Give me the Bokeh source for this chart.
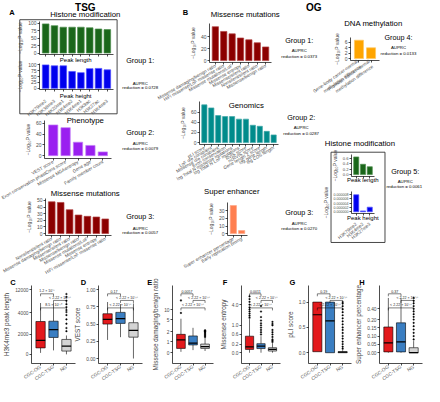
import numpy as np
from bokeh.plotting import figure
from bokeh.models import Range1d, FactorRange, FixedTicker, GridBox, ColumnDataSource, PrintfTickFormatter, Column
from bokeh.embed import file_html
from bokeh.resources import INLINE
from bokeh.core.properties import value

# ---------------- data ----------------
tsg_hist_marks = ["H3K79me2", "H3K36me3", "H4K20me1", "H3K4me2", "H3K4me1", "H3K9ac", "H3K27ac", "H3K4me3"]
tsg_peak_length = [97, 91, 86, 86, 86, 84, 80, 78]
tsg_peak_height = [100, 96, 96, 72, 67, 84, 85, 79]

tsg_pheno_feats = ["VEST score", "Exon conservation phastCons score", "Missense MGAentropy", "Gene age", "Family member count"]
tsg_pheno_vals = [57, 52, 25, 19, 7]

tsg_mis_feats = ["Nonsilent/silent ratio", "Missense damaging/benign ratio", "Missense/silent ratio",
                 "Missense/benign ratio", "Missense mutations/LoF", "Missense entropy", "HiFi missense/LoF missense ratio"]
tsg_mis_vals = [48, 47, 36, 28, 26, 25, 22]

og_mis_feats = ["Missense damaging/benign ratio", "HiFi missense/LoF missense ratio", "Missense mutations/LoF",
                "Missense entropy", "Missense/silent ratio", "Nonsilent/silent ratio", "Missense/benign ratio"]
og_mis_vals = [57, 49, 45, 38, 35, 30, 23]

og_gen_feats = ["pLI score", "LoF o/e constraint", "Missense o/e constraint", "Exon conservation",
                "log Total N missense mutations", "log Total N LoF mutations", "RVIS score", "ncRVIS score",
                "Gene length Z score", "log gene length", "log CDS length"]
og_gen_vals = [74, 68, 53, 51, 51, 46, 46, 34, 32, 22, 15]

og_meth_feats = ["Gene-body cancer-normal\nmethylation difference", "Promoter cancer-normal\nmethylation difference"]
og_meth_vals = [6.8, 4.0]

og_se_feats = ["Super enhancer percentage", "Early replication timing"]
og_se_vals = [37, 4]

og_hist_marks = ["H3K79me2", "H3K4me2", "H3K27me3"]
og_peak_length = [0.65, 0.38, 0.29]
og_peak_height = [7.8e-6, 0.4e-6, 2.1e-6]

box_groups = ["CGC-OG", "CGC-TSG", "NG"]
box_colors = ["#e3191c", "#3a7ec2", "#d4d4d4"]

# boxplot stats per group: (lower whisker, Q1, median, Q3, upper whisker)
c_stats = [(150, 650, 1400, 3200, 7400), (400, 1700, 2450, 3230, 7400), (0, 330, 830, 1500, 1900)]
c_out = [[], [], [2300, 2600, 3000, 3400, 3800, 4300, 5000, 6000, 7000, 8200, 9500, 10500]]
c_ticks = [0, 2000, 4000, 12000]

d_stats = [(0.27, 0.50, 0.57, 0.65, 0.82), (0.31, 0.51, 0.58, 0.67, 0.79), (0.0, 0.31, 0.41, 0.52, 0.80)]
d_out = [[], [], []]
d_ticks = [0.0, 0.25, 0.5, 0.75, 1.0]

e_stats = [(0.08, 0.4, 1.2, 1.76, 5.4), (0.24, 0.72, 0.9, 1.6, 3.0), (0.16, 0.4, 0.56, 0.8, 1.44)]
e_out = [[8.3, 14.6], [], [1.5, 1.6, 1.7, 1.8, 1.9, 2.0, 2.1, 2.2, 2.3, 2.4]]
e_ticks = [0, 1, 2, 5, 10]

f_stats = [(0.0, 0.08, 0.14, 0.53, 1.9), (0.0, 0.1, 0.16, 0.23, 0.53), (0.0, 0.04, 0.08, 0.12, 0.25)]
f_out = [[2.1, 2.4, 2.7, 3.0, 3.3, 3.6, 4.0, 4.4, 4.8, 5.2],
         [0.6, 0.7, 0.8, 0.9, 1.0, 1.3, 1.7, 2.2, 3.0, 3.8],
         [0.3, 0.35, 0.4, 0.5, 0.6, 0.7, 0.8, 1.0, 1.2, 1.5]]
f_ticks = [0.0, 0.2, 0.6, 1.0, 4.0]

g_stats = [(0.02, 0.02, 0.75, 1.0, 1.0), (0.0, 0.0, 0.63, 1.0, 1.0), (0.0, 0.0, 0.01, 0.02, 0.05)]
g_out = [[], [], [0.08, 0.12, 0.17, 0.22, 0.28, 0.33, 0.39, 0.45, 0.5, 0.56, 0.62, 0.68, 0.74, 0.8, 0.86, 0.92, 0.97, 1.0]]
g_ticks = [0.0, 0.5, 1.0]

h_stats = [(0.0, 0.005, 0.06, 0.155, 0.6), (0.0, 0.005, 0.065, 0.18, 0.6), (0.0, 0.0, 0.0, 0.03, 0.07)]
h_out = [[], [], [0.08, 0.1, 0.12, 0.14, 0.16, 0.18, 0.2, 0.25, 0.3, 0.35, 0.4, 0.45, 0.5, 0.55, 0.6]]
h_ticks = [0.0, 0.05, 0.10, 0.15, 0.20, 0.40]

# ---------------- layout helpers ----------------
W, H = 424, 386
RW, RH = 440, 402
SX, SY = W / RW, H / RH
FONT = "Liberation Sans"


def mk(x0, y0, x1, y1, **kw):
    p = figure(width=W, height=H, output_backend="svg", toolbar_location=None, title_location=None,
               min_border_left=int(round(x0 * SX)), min_border_right=int(round(W - x1 * SX)),
               min_border_top=int(round(y0 * SY)), min_border_bottom=int(round(H - y1 * SY)), **kw)
    p.background_fill_alpha = 0
    p.border_fill_alpha = 0
    p.outline_line_color = None
    p.grid.visible = False
    return p


def style(p, tick_fs=5.0, lab_fs=5.0, xfs=4.6, angle=None):
    for ax in p.axis:
        ax.axis_line_width = 0.7
        ax.major_tick_out = 2
        ax.major_tick_in = 0
        ax.major_tick_line_width = 0.7
        ax.minor_tick_line_color = None
        ax.major_label_text_font = FONT
        ax.major_label_text_font_size = f"{tick_fs}px"
        ax.major_label_text_color = "#4d4d4d"
        ax.major_label_standoff = 1
        ax.axis_label_text_font = FONT
        ax.axis_label_text_font_size = f"{lab_fs}px"
        ax.axis_label_text_font_style = "normal"
        ax.axis_label_standoff = 2
    p.xaxis.major_label_text_font_size = f"{xfs}px"
    if angle is not None:
        p.xaxis.major_label_orientation = float(np.deg2rad(angle))


def bar_panel(frame, cats, vals, color, edge, yr, ticks, angle=30, show_x=True, fmt=None, tick_fs=5.0,
              width=0.75, xstand=1):
    x0, y0, x1, y1 = frame
    p = mk(x0, y0, x1, y1, x_range=FactorRange(*cats, range_padding=0.2, range_padding_units="absolute"),
           y_range=Range1d(*yr))
    src = ColumnDataSource(dict(x=cats, top=vals))
    p.vbar(x="x", top="top", bottom=0, width=width, source=src, fill_color=color, line_color=edge, line_width=0.7)
    p.yaxis.ticker = FixedTicker(ticks=ticks)
    if fmt:
        p.yaxis.formatter = PrintfTickFormatter(format=fmt)
    p.yaxis.axis_label = "\u2212Log\u2081\u2080P value"
    style(p, tick_fs=tick_fs, angle=angle)
    p.xaxis.major_label_standoff = xstand
    if not show_x:
        p.xaxis.major_label_text_color = None
    return p


def tr(v, kv, kd):
    v = np.atleast_1d(np.asarray(v, dtype=float))
    out = np.interp(v, kv, kd)
    slope = (kd[-1] - kd[-2]) / (kv[-1] - kv[-2])
    m = v > kv[-1]
    out[m] = kd[-1] + (v[m] - kv[-1]) * slope
    return out


def box_panel(frame, kv, kpix, ticks, labels, stats, outl, ylab, plabels):
    x0, y0, x1, y1 = frame
    kd = [RH - k for k in kpix]
    T = lambda v: tr(v, kv, kd)
    p = mk(x0, y0, x1, y1, x_range=FactorRange(*box_groups, range_padding=0.2, range_padding_units="absolute"),
           y_range=Range1d(RH - y1, RH - y0))
    lo, q1, md, q3, hi = [list(c) for c in zip(*stats)]
    src = ColumnDataSource(dict(x=box_groups, lo=T(lo), q1=T(q1), md=T(md), q3=T(q3), hi=T(hi), c=box_colors))
    p.segment(x0="x", y0="q3", x1="x", y1="hi", source=src, line_color="black", line_width=0.6)
    p.segment(x0="x", y0="lo", x1="x", y1="q1", source=src, line_color="black", line_width=0.6)
    p.vbar(x="x", bottom="q1", top="q3", width=0.72, source=src, fill_color="c", line_color="black", line_width=0.6)
    p.rect(x="x", y="md", width=0.72, height=1.5, source=src, fill_color="black", line_color=None)
    ox = [box_groups[i] for i, vals in enumerate(outl) for _ in vals]
    oy = [v for vals in outl for v in vals]
    if oy:
        p.scatter(x=ox, y=T(oy), size=1.7, fill_color="black", line_color="black", line_width=0.3)
    # significance brackets
    pairs = [(0, 1), (1, 2), (0, 2)]
    depth = [10, 18, 27]
    xs, ys, tx, ty = [], [], [], []
    for (a, b), d, lab in zip(pairs, depth, plabels):
        lv = RH - (y0 + d)
        xs.append([box_groups[a], box_groups[a], box_groups[b], box_groups[b]])
        ys.append([lv - 3, lv, lv, lv - 3])
        tx.append((box_groups[a], (b - a) / 2.0))
        ty.append(lv + 0.8)
    p.multi_line(xs=xs, ys=ys, line_color="black", line_width=0.5)
    p.text(x=tx, y=ty, text=plabels, text_font=value(FONT), text_font_size="3.6px",
           text_align="center", text_baseline="bottom", text_color="#222222")
    tpos = [round(float(t), 3) for t in T(ticks)]
    p.yaxis.ticker = FixedTicker(ticks=tpos)
    p.yaxis.major_label_overrides = {tp: lab for tp, lab in zip(tpos, labels)}
    p.yaxis.axis_label = ylab
    style(p, tick_fs=4.8, lab_fs=6.4, xfs=4.8, angle=35)
    return p


figs = []

# ---------------- canvas (texts, boxes) ----------------
cv = mk(0, 0, RW, RH, x_range=Range1d(0, RW), y_range=Range1d(RH, 0), x_axis_location=None, y_axis_location=None)
cv.quad(left=[20, 343], right=[121, 399], top=[20, 158], bottom=[118, 252], fill_color=None,
        line_color="#333333", line_width=0.9)


def txt(xs, ys, ts, fs, bold=False, color="black"):
    cv.text(x=xs, y=ys, text=ts, text_font=value(FONT), text_font_size=f"{fs}px",
            text_font_style="bold" if bold else "normal", text_align="center", text_baseline="middle",
            text_color=color)


txt([88, 325], [7, 7], ["TSG", "OG"], 10, bold=True)
txt([12, 192, 13, 86, 155, 233, 303, 375], [13, 13, 294, 294, 294, 294, 294, 294],
    ["A", "B", "C", "D", "E", "F", "G", "H"], 7.5, bold=True)
txt([88, 88, 88, 254, 387, 255, 240, 373],
    [15, 125, 201, 15, 24, 109, 199, 149],
    ["Histone modification", "Phenotype", "Missense mutations", "Missense mutations", "DNA methylation",
     "Genomics", "Super enhancer", "Histone modification"], 7.8)
txt([78, 78, 376, 376], [62, 99, 187, 226], ["Peak length", "Peak height", "Peak length", "Peak height"], 6.0)
txt([145, 145, 145, 310, 413, 312, 310, 420], [63, 137, 225, 42, 39, 122, 221, 178],
    ["Group 1:", "Group 2:", "Group 3:", "Group 1:", "Group 4:", "Group 2:", "Group 3:", "Group 5:"], 7.2)
txt([145, 145, 145, 310, 413, 312, 310, 420], [86, 149, 237, 52, 49, 132, 232, 188], ["AUPRC"] * 8, 4.3)
txt([145, 145, 145, 310, 413, 312, 310, 419], [91, 154, 242, 58, 55, 138, 237, 194],
    ["reduction = 0.0728", "reduction = 0.0079", "reduction = 0.0057", "reduction = 0.0373",
     "reduction = 0.0133", "reduction = 0.0287", "reduction = 0.0270", "reduction = 0.0061"], 4.3)
figs.append(cv)

# ---------------- A: TSG ----------------
figs.append(bar_panel((40, 22, 117, 56), tsg_hist_marks, tsg_peak_length, "#1a661a", "#4f8f4f", (-5, 105),
                      [0, 25, 50, 75, 100], show_x=False))
figs.append(bar_panel((40, 66, 117, 93), tsg_hist_marks, tsg_peak_height, "#0000ee", "#5050ff", (-5, 106),
                      [0, 25, 50, 75, 100], angle=40, xstand=9))
figs.append(bar_panel((46, 125, 115, 165), tsg_pheno_feats, tsg_pheno_vals, "#9a1ff0", "#c27cf7", (-5.3, 65.3),
                      [0, 20, 40, 60], angle=30))
figs.append(bar_panel((47, 206, 115, 245), tsg_mis_feats, tsg_mis_vals, "#8b0000", "#b04040", (-3, 53),
                      [0, 10, 20, 30, 40, 50], angle=30))

# ---------------- B: OG ----------------
figs.append(bar_panel((217, 24, 281, 65), og_mis_feats, og_mis_vals, "#8b0000", "#b04040", (-3.2, 62.4),
                      [0, 20, 40], angle=30))
figs.append(bar_panel((206, 105, 288, 150), og_gen_feats, og_gen_vals, "#008b8b", "#40a8a8", (-3.75, 80.6),
                      [0, 20, 40, 60], angle=30))
figs.append(bar_panel((363, 39, 393, 63), og_meth_feats, og_meth_vals, "#ffa500", "#ffc860", (-0.7, 7.8),
                      [0, 2, 4, 6], angle=35))
figs.append(bar_panel((236, 210, 256, 245), og_se_feats, og_se_vals, "#ff7f50", "#ffa888", (-2.5, 41),
                      [0, 10, 20, 30], angle=30))
figs.append(bar_panel((364, 160, 388, 183), og_hist_marks, og_peak_length, "#1a661a", "#4f8f4f", (-0.07, 0.74),
                      [0, 0.2, 0.4, 0.6], show_x=False, fmt="%.1f", tick_fs=4.2))
figs.append(bar_panel((364, 199, 388, 222), og_hist_marks, og_peak_height, "#0000ee", "#5050ff", (-0.8e-6, 9.3e-6),
                      [0, 2e-6, 4e-6, 6e-6, 8e-6], angle=40, fmt="%.6f", tick_fs=3.6, xstand=8))

# ---------------- C-H: boxplots ----------------
P16 = "< 2.22 \u00d7 10\u207b\u00b9\u2076"
figs.append(box_panel((29, 297, 78, 391), [0, 2000, 4000, 12000], [380, 356, 330, 302], c_ticks,
                      ["0", "2000", "4000", "12000"], c_stats, c_out, "H3K4me3 peak length",
                      ["1.2 \u00d7 10\u207b\u2076", P16, "8.5 \u00d7 10\u207b\u00b9\u2070"]))
figs.append(box_panel((102, 297, 147, 391), [0, 1], [385, 302], d_ticks,
                      ["0.00", "0.25", "0.50", "0.75", "1.00"], d_stats, d_out, "VEST score",
                      ["0.17", P16, P16]))
figs.append(box_panel((178, 297, 221, 391), [0, 1, 2, 5, 10], [378, 365, 353, 338, 326], e_ticks,
                      ["0", "1", "2", "5", "10"], e_stats, e_out, "Missense damaging/benign ratio",
                      ["0.0057", P16, P16]))
figs.append(box_panel((250, 297, 291, 391), [0, 0.2, 0.6, 1.0, 4.0], [378, 368, 356, 345, 320], f_ticks,
                      ["0.0", "0.2", "0.6", "1.0", "4.0"], f_stats, f_out, "Missense entropy",
                      ["0.0011", P16, P16]))
figs.append(box_panel((320, 297, 364, 391), [0, 1], [378, 317], g_ticks,
                      ["0.0", "0.5", "1.0"], g_stats, g_out, "pLI score",
                      ["0.19", P16, P16]))
figs.append(box_panel((393, 297, 438, 391), [0, 0.05, 0.10, 0.15, 0.20, 0.40], [378, 368, 358, 348, 338, 325],
                      h_ticks, ["0.00", "0.05", "0.10", "0.15", "0.20", "0.40"], h_stats, h_out,
                      "Super enhancer percentage", ["0.37", P16, P16]))

layout = GridBox(children=[(Column(children=[f]), 0, 0) for f in figs])
open("out.html", "w").write(file_html(layout, INLINE))
